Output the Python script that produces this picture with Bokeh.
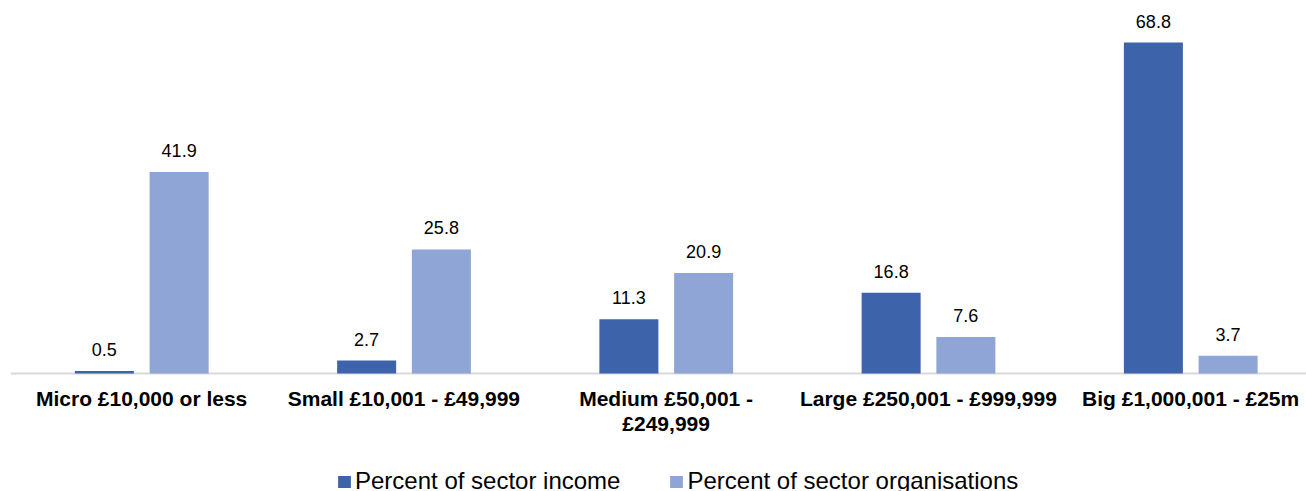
from bokeh.plotting import figure
from bokeh.models import ColumnDataSource, Legend, LegendItem, LabelSet, Range1d, Span
from bokeh.core.properties import value
from bokeh.transform import dodge
from bokeh.embed import file_html
from bokeh.resources import INLINE

categories = ["Micro £10,000 or less", "Small £10,001 - £49,999",
              "Medium £50,001 -\n£249,999", "Large £250,001 - £999,999",
              "Big £1,000,001 - £25m"]
income = [0.5, 2.7, 11.3, 16.8, 68.8]
organisations = [41.9, 25.8, 20.9, 7.6, 3.7]
series_names = ["Percent of sector income", "Percent of sector organisations"]

DARK = "#3d64ab"
LIGHT = "#8fa5d5"
FONT = "Liberation Sans"

idx = list(range(len(categories)))
src = ColumnDataSource(dict(
    x=idx,
    zero=[0] * len(categories),
    cat=categories,
    income=income,
    orgs=organisations,
    income_lbl=[f"{v:.1f}" for v in income],
    orgs_lbl=[f"{v:.1f}" for v in organisations],
))

PX = 4.81  # pixels per percentage point
p = figure(width=1306, height=491,
           x_range=Range1d(-0.5, -0.5 + 1296 / 262.25),
           y_range=Range1d(-(491 - 373) / PX, (373 - 10) / PX),
           x_axis_type=None, y_axis_type=None,
           output_backend="svg", toolbar_location=None,
           min_border_left=10, min_border_right=0, min_border_top=10,
           min_border_bottom=0)
p.outline_line_color = None
p.xgrid.visible = False
p.ygrid.visible = False

p.add_layout(Span(location=0, dimension="width", line_color="#d9d9d9",
                  line_width=2, level="underlay"))

r1 = p.vbar(x=dodge("x", -0.142), top="income", width=0.225, source=src,
            fill_color=DARK, line_color=None)
r2 = p.vbar(x=dodge("x", 0.143), top="orgs", width=0.225, source=src,
            fill_color=LIGHT, line_color=None)

for col, lbl, off in (("income", "income_lbl", -0.142), ("orgs", "orgs_lbl", 0.143)):
    ls = LabelSet(x=dodge("x", off), y=col, text=lbl, source=src,
                  text_align="center", text_baseline="alphabetic",
                  y_offset=15, text_font=value(FONT), text_font_size=value("18px"),
                  text_color=value("#000000"))
    p.add_layout(ls)

p.text(x="x", y="zero", text="cat", source=src, text_align="center",
       text_baseline="top", y_offset=13, text_font=value(FONT),
       text_font_size="21px", text_font_style="bold", text_color="#000000",
       text_line_height=1.12)

legend = Legend(items=[LegendItem(label=series_names[0], renderers=[r1]),
                       LegendItem(label=series_names[1], renderers=[r2])],
                orientation="horizontal", location=(326, -4),
                label_text_font=FONT, label_text_font_size="24px",
                label_text_color="#000000",
                glyph_width=16, glyph_height=15, label_standoff=3,
                spacing=48, padding=0, margin=0, border_line_color=None,
                background_fill_alpha=0)
p.add_layout(legend, "center")

open("out.html", "w").write(file_html(p, INLINE))
